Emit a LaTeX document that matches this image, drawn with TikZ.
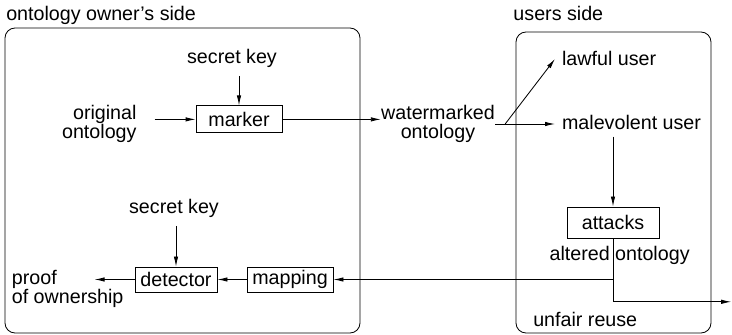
\documentclass[tikz,border=0pt]{standalone}
\usepackage{fontspec}
\setmainfont{Liberation Sans}
\usetikzlibrary{arrows.meta,positioning,calc}

\begin{document}
\begin{tikzpicture}[every node/.style={font=\fontsize{14}{13}\selectfont, inner sep=0pt},
    blk/.style={draw, line width=0.6pt},
    arr/.style={-{Latex[length=0.25cm,width=0.11cm]}, line width=0.6pt},
    side/.style={draw, line width=0.6pt, rounded corners=0.25cm}]
  \useasboundingbox (0,0) rectangle (18.3,8.375);

  % owner side
  \draw[side] (0.125,0.05) rectangle (9.0,7.675);
  \node[anchor=base west] (owner) at (0.15,7.86) {ontology owner's side};
  \node[anchor=base] (key1) at (5.8,6.79) {secret key};
  \node[blk, minimum width=2.15cm, minimum height=0.675cm] (marker) at (5.975,5.39) {marker};
  \node[anchor=east, align=right] (orig) at (3.42,5.275) {original\\ontology};
  \node[blk, minimum width=2.05cm, minimum height=0.625cm] (detector) at (4.4,1.3875) {detector};
  \node[blk, minimum width=2.15cm, minimum height=0.625cm] (mapping) at (7.25,1.3875) {mapping};
  \node[anchor=base] (key2) at (4.35,3.04) {secret key};
  \node[anchor=west, align=left] (proof) at (0.29,1.15) {proof\\of ownership};

  \node[align=center] (wm) at (10.95,5.275) {watermarked\\ontology};
  \coordinate (split) at ($(wm.east)+(0.25,0)$);

  % users side
  \draw[side] (12.9,0.05) rectangle (17.775,7.575);
  \node[anchor=base west] (users) at (12.83,7.86) {users side};
  \node[anchor=base west, inner sep=0.17cm] (lawful) at (13.875,6.725) {lawful user};
  \node[anchor=base west, inner sep=0.17cm] (mal) at (13.875,5.14) {malevolent user};
  \node[blk, minimum width=2.3cm, minimum height=0.775cm] (attacks) at (15.325,2.8125) {attacks};
  \node[anchor=base] (altered) at (15.49,1.85) {altered ontology};
  \node[anchor=base west] (unfair) at (13.325,0.2075) {unfair reuse};
  \coordinate (reuse) at (18.28,0.83);

  % connectors
  \draw[arr] (key1.south -| marker) ++(0,-0.2) -- (marker.north);
  \draw[arr] (marker.west) ++(-1.025,0) -- (marker.west);
  \draw[arr] (marker.east) -- (marker.east -| wm.west);
  \draw[line width=0.6pt] (wm.east) -- (split);
  \draw[arr] (split) -- (lawful.west);
  \draw[arr] (split) -- (split -| mal.west);
  \draw[arr] (attacks |- mal.south) -- (attacks.north);
  \draw[line width=0.6pt] (attacks.south) -- (attacks.south |- reuse);
  \draw[arr] (attacks.south |- reuse) -- (reuse);
  \draw[arr] (attacks.south |- mapping) -- (mapping.east);
  \draw[arr] (mapping.west) -- (detector.east);
  \draw[arr] (key2.south -| detector) ++(0,-0.2) -- (detector.north);
  \draw[arr] (detector.west) -- ++(-1,0);
\end{tikzpicture}
\end{document}
